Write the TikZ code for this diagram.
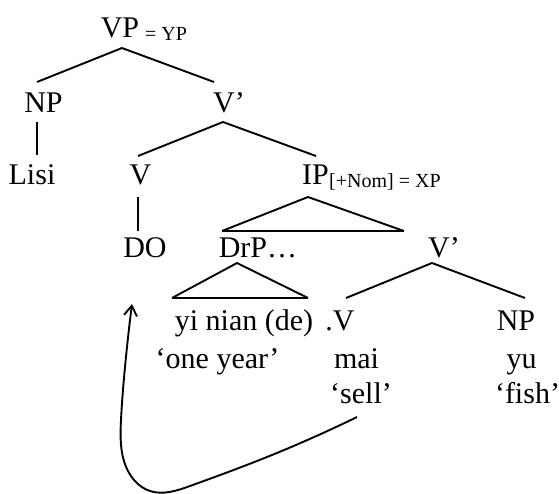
\documentclass[tikz,border=0pt]{standalone}
\usepackage{fontspec}
\setmainfont{Liberation Serif}
\usetikzlibrary{hobby,arrows.meta}
\tikzset{
  use Hobby shortcut,
  every node/.style={inner sep=0pt,anchor=base,font=\fontsize{30}{36}\selectfont},
  subtag/.style={anchor=base west,font=\fontsize{20}{24}\selectfont},
  branch/.style={line width=1.9pt},
  triangle base/.style={line width=2.6pt},
  movement/.style={line width=1.9pt,-{Straight Barb[length=10pt,width=13pt,line width=1.9pt]}}
}
\begin{document}
\begin{tikzpicture}[x=1pt,y=-1pt]
\useasboundingbox (0,0) rectangle (559,493);
\node (vp) at (120,37) {VP};
\node[subtag] (vpsub) at (145,40) {= YP};
\node (np) at (43.5,112) {NP};
\node (vbar) at (229,112) {V'};
\node (lisi) at (32,184) {Lisi};
\node (v) at (140.5,184) {V};
\node (ip) at (315.5,184) {IP};
\node[subtag] (ipsub) at (329,187) {[+Nom] = XP};
\node (do) at (145,257) {DO};
\node (drp) at (258,257) {DrP…};
\node (vbarb) at (444,257) {V'};
\node (yinian) at (244,330) {yi nian (de)};
\node (dotv) at (340,330) {.V};
\node (npb) at (516,330) {NP};
\node (oneyear) at (217.5,368) {`one year'};
\node (mai) at (356.5,368) {mai};
\node (yu) at (521.5,368) {yu};
\node (sell) at (361,403) {`sell'};
\node (fish) at (527.5,403) {`fish'};
% upper branches
\draw[branch] ([shift={(-6.5,-30)}]np.base) -- ([shift={(2,11)}]vp.base) -- ([shift={(-15,-30)}]vbar.base);
\draw[branch] ([shift={(-6.5,10)}]np.base) -- ([shift={(5,-29)}]lisi.base);
\draw[branch] ([shift={(-2.5,-28)}]v.base) -- ([shift={(-6,10)}]vbar.base) -- ([shift={(0.5,-28)}]ip.base);
\draw[branch] ([shift={(-2.5,13)}]v.base) -- ([shift={(-7,-26)}]do.base);
% triangles
\draw[branch] ([shift={(-36,-26)}]drp.base) -- ([shift={(-7.5,13)}]ip.base) -- ([shift={(-40,-26)}]vbarb.base);
\draw[triangle base] ([shift={(-36,-26)}]drp.base) -- ([shift={(-40,-26)}]vbarb.base);
\draw[branch] ([shift={(-72,-32)}]yinian.base) -- ([shift={(-21,6)}]drp.base) -- ([shift={(64,-32)}]yinian.base);
\draw[triangle base] ([shift={(-72,-32)}]yinian.base) -- ([shift={(64,-32)}]yinian.base);
\draw[branch] ([shift={(6,-32)}]dotv.base) -- ([shift={(-12,6)}]vbarb.base) -- ([shift={(9,-32)}]npb.base);
% movement
\draw[movement] ([shift={(-4,14)}]sell.base) .. (267,457) .. (190,486) .. (150,491) .. (128,471) .. (121,420) .. (125,367) .. ([shift={(-13,47)}]do.base);
\end{tikzpicture}
\end{document}
